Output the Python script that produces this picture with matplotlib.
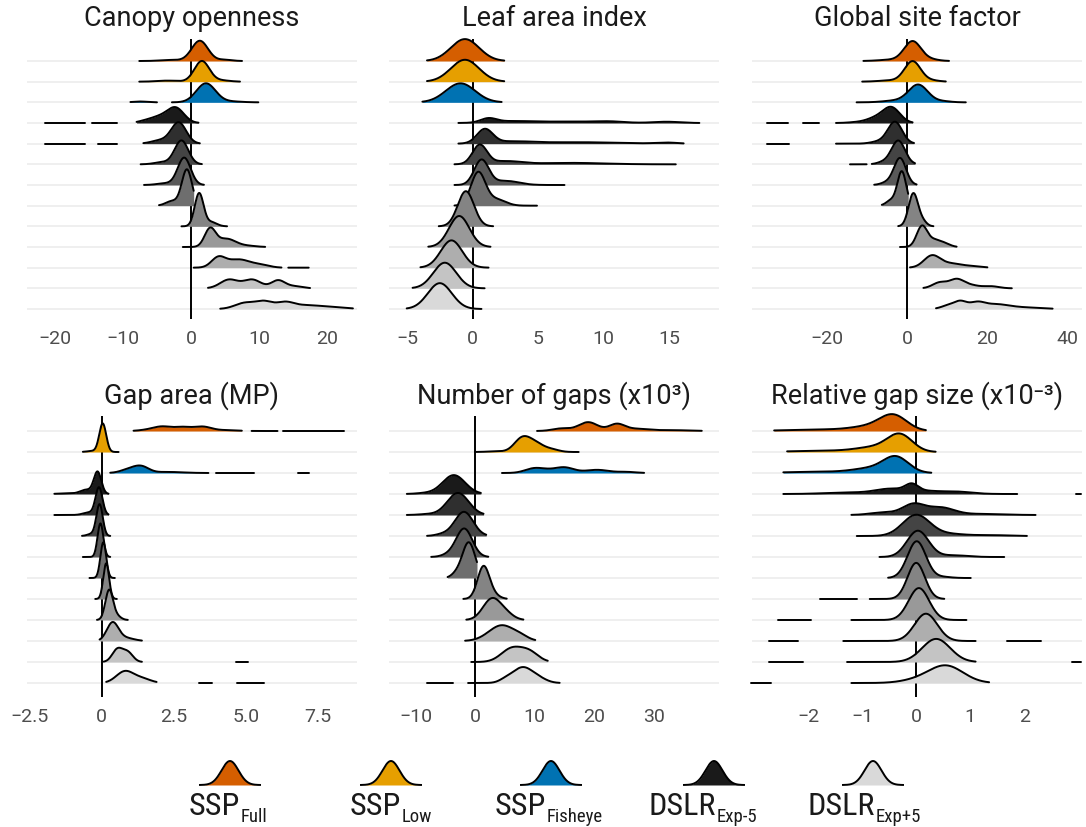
import numpy as np
import matplotlib.pyplot as plt
from matplotlib import font_manager

# ---------------------------------------------------------------------------#
# ridge data: one entry per row, top row first
# spans -> x intervals where the density line is drawn
# peaks -> (centre, spread, height in row units) of each mode

canopy_spans = [
    [(-7.6, 7.5)],
    [(-7.6, 7.2)],
    [(-8.9, -5.0), (-2.8, 9.9)],
    [(-21.5, -15.6), (-14.6, -10.9), (-8.0, 1.1)],
    [(-21.5, -15.6), (-13.6, -10.9), (-7.0, 1.3)],
    [(-7.4, 1.6)],
    [(-6.9, 1.9)],
    [(-4.7, 0.4)],
    [(-1.4, 5.3)],
    [(-1.2, 10.9)],
    [(0.4, 13.3), (14.3, 17.3)],
    [(2.5, 17.5)],
    [(4.3, 23.8)],
]
canopy_peaks = [
    [(1.3, 1.2, 0.98), (-3.0, 1.5, 0.05), (5.0, 1.0, 0.06)],
    [(1.6, 1.1, 1.0), (-3.5, 1.5, 0.05), (4.5, 1.2, 0.06)],
    [(2.2, 1.4, 0.92), (-7.5, 1.0, 0.04), (6.0, 1.5, 0.04)],
    [(-2.2, 1.2, 0.68), (-4.6, 1.5, 0.3), (-7.0, 1.0, 0.05)],
    [(-1.8, 1.1, 1.02), (-4.5, 1.3, 0.16)],
    [(-1.4, 1.0, 1.15), (-4.2, 1.2, 0.1)],
    [(-1.0, 0.95, 1.32), (-3.8, 1.2, 0.08)],
    [(-0.6, 0.75, 1.75), (-2.8, 0.9, 0.22)],
    [(1.2, 0.65, 1.6), (3.0, 0.8, 0.2)],
    [(2.8, 0.8, 0.85), (5.2, 1.4, 0.4), (8.5, 1.2, 0.05)],
    [(4.0, 1.0, 0.45), (7.0, 1.8, 0.4), (10.5, 1.2, 0.1)],
    [(5.6, 1.3, 0.42), (9.0, 1.3, 0.42), (12.8, 1.0, 0.38), (15.2, 1.2, 0.1)],
    [(8.0, 1.5, 0.3), (10.8, 1.2, 0.33), (13.8, 1.3, 0.3), (17.0, 2.0, 0.17), (21.0, 2.0, 0.08)],
]

lai_spans = [
    [(-3.5, 2.4)],
    [(-3.5, 2.4)],
    [(-3.85, 2.2)],
    [(-1.1, 17.3)],
    [(-1.1, 16.1)],
    [(-1.4, 15.5)],
    [(-1.4, 7.0)],
    [(-1.4, 4.9)],
    [(-2.6, 1.55)],
    [(-3.4, 1.35)],
    [(-4.0, 1.2)],
    [(-4.6, 0.9)],
    [(-5.05, 0.66)],
]
lai_peaks = [
    [(-0.6, 1.08, 1.06)],
    [(-0.6, 1.08, 1.06)],
    [(-0.94, 1.12, 0.92)],
    [(1.2, 0.6, 0.2), (3.0, 1.5, 0.08), (7.5, 2.5, 0.07), (10.5, 1.0, 0.05), (14.8, 1.0, 0.06)],
    [(0.92, 0.6, 0.68), (3.0, 1.5, 0.1), (8.0, 3.0, 0.07), (14.8, 0.8, 0.05)],
    [(0.53, 0.55, 0.92), (2.5, 1.2, 0.15), (7.5, 2.5, 0.07)],
    [(0.66, 0.55, 1.2), (2.5, 1.0, 0.2)],
    [(0.41, 0.55, 1.6), (1.8, 0.7, 0.3)],
    [(-0.53, 0.62, 1.7)],
    [(-1.04, 0.78, 1.5)],
    [(-1.63, 0.82, 1.32)],
    [(-2.14, 0.88, 1.24)],
    [(-2.52, 0.92, 1.25)],
]

gsf_spans = [
    [(-10.9, 10.5)],
    [(-11.2, 9.7)],
    [(-12.6, 14.7)],
    [(-34.9, -29.7), (-26.1, -21.9), (-17.75, 1.4)],
    [(-34.9, -29.4), (-17.75, 1.75)],
    [(-14.25, -10.1), (-8.8, 2.0)],
    [(-8.2, 2.4)],
    [(-6.3, 0.3)],
    [(-2.2, 6.6)],
    [(-1.75, 12.4)],
    [(0.75, 20.1)],
    [(4.1, 26.2)],
    [(7.25, 36.4)],
]
gsf_peaks = [
    [(1.4, 2.1, 0.95), (-4.0, 3.0, 0.06), (6.0, 2.0, 0.07)],
    [(1.4, 2.0, 0.98), (-4.0, 3.0, 0.06), (6.0, 2.0, 0.06)],
    [(2.8, 2.4, 0.85), (-3.0, 3.0, 0.08), (9.0, 2.0, 0.05)],
    [(-3.8, 2.1, 0.7), (-7.6, 2.5, 0.25), (-13.0, 2.0, 0.03)],
    [(-3.0, 1.8, 1.05), (-7.0, 2.0, 0.1)],
    [(-2.2, 1.7, 1.15), (-6.0, 1.5, 0.1)],
    [(-1.75, 1.5, 1.3), (-5.0, 1.5, 0.12)],
    [(-1.3, 1.1, 1.65), (-4.0, 1.2, 0.25)],
    [(1.6, 1.2, 1.6), (4.0, 1.0, 0.2)],
    [(3.7, 1.3, 0.95), (7.0, 2.0, 0.35), (10.0, 1.2, 0.06)],
    [(6.2, 2.0, 0.55), (11.0, 3.0, 0.2), (17.0, 2.0, 0.05)],
    [(8.2, 1.8, 0.28), (12.4, 1.8, 0.42), (16.0, 2.0, 0.14), (21.0, 2.0, 0.1)],
    [(10.5, 1.8, 0.18), (13.4, 1.5, 0.32), (17.5, 2.0, 0.32), (22.0, 2.5, 0.18), (26.0, 3.0, 0.1), (32.0, 3.0, 0.05)],
]

gap_spans = [
    [(1.1, 4.86), (5.2, 6.1), (6.3, 8.4)],
    [(-0.66, 0.58)],
    [(0.29, 3.7), (3.97, 5.3), (6.8, 7.2)],
    [(-1.65, 0.23)],
    [(-1.65, 0.23)],
    [(-0.69, 0.29)],
    [(-0.66, 0.29)],
    [(-0.43, 0.45)],
    [(-0.23, 0.52)],
    [(-0.17, 0.9)],
    [(-0.08, 1.39)],
    [(0.06, 1.39), (4.66, 5.09)],
    [(0.15, 1.9), (3.38, 3.83), (4.71, 5.64)],
]
gap_peaks = [
    [(2.1, 0.3, 0.2), (2.8, 0.3, 0.18), (3.5, 0.3, 0.2), (1.6, 0.3, 0.05), (4.3, 0.4, 0.04)],
    [(0.03, 0.12, 1.35), (-0.3, 0.2, 0.05)],
    [(1.0, 0.3, 0.2), (1.4, 0.25, 0.25), (2.3, 0.5, 0.05)],
    [(-0.15, 0.13, 1.05), (-0.55, 0.2, 0.2), (-1.2, 0.3, 0.03)],
    [(-0.1, 0.12, 1.3), (-0.45, 0.2, 0.12)],
    [(-0.08, 0.11, 1.5), (-0.35, 0.15, 0.1)],
    [(-0.05, 0.1, 1.6)],
    [(0.05, 0.1, 1.7)],
    [(0.15, 0.1, 1.7)],
    [(0.25, 0.13, 1.4), (0.5, 0.15, 0.2)],
    [(0.37, 0.2, 0.85), (0.8, 0.3, 0.15)],
    [(0.54, 0.18, 0.6), (0.9, 0.18, 0.45)],
    [(0.8, 0.3, 0.55), (1.4, 0.3, 0.2)],
]

ngap_spans = [
    [(10.4, 38.1)],
    [(0.0, 17.4)],
    [(4.5, 28.4)],
    [(-11.5, 0.95)],
    [(-11.5, 1.4)],
    [(-8.1, 1.85)],
    [(-7.4, 2.2)],
    [(-4.65, 0.3)],
    [(-2.0, 5.3)],
    [(-1.5, 8.1)],
    [(-1.7, 10.1)],
    [(-0.67, 12.2)],
    [(-8.1, -3.75), (-1.2, 14.2)],
]
ngap_peaks = [
    [(14.5, 1.5, 0.12), (19.0, 1.6, 0.42), (23.8, 1.3, 0.32), (27.0, 2.0, 0.1), (33.0, 3.0, 0.04)],
    [(7.8, 1.3, 0.58), (10.0, 1.5, 0.42), (13.0, 1.2, 0.1), (3.5, 1.5, 0.03)],
    [(9.8, 1.5, 0.2), (12.0, 1.5, 0.1), (15.0, 1.6, 0.26), (20.5, 2.0, 0.15), (25.5, 1.5, 0.05)],
    [(-3.6, 1.9, 0.9), (-8.5, 1.5, 0.04)],
    [(-2.9, 1.8, 1.05), (-8.0, 1.5, 0.04)],
    [(-1.9, 1.55, 1.15), (-5.5, 1.2, 0.08)],
    [(-1.85, 1.35, 1.35), (-4.5, 1.2, 0.1)],
    [(-1.1, 1.1, 1.7), (-3.3, 0.8, 0.15)],
    [(1.4, 1.0, 1.55), (3.2, 1.0, 0.15)],
    [(2.8, 1.5, 1.0), (5.2, 1.3, 0.25)],
    [(4.5, 2.2, 0.75), (7.8, 1.2, 0.12)],
    [(6.2, 1.8, 0.65), (9.2, 1.5, 0.42)],
    [(8.0, 1.8, 0.75), (5.0, 1.0, 0.1), (11.0, 1.3, 0.12)],
]

rel_spans = [
    [(-2.63, 0.18)],
    [(-2.39, 0.36)],
    [(-2.46, 0.28)],
    [(-2.46, 1.87), (2.95, 3.06)],
    [(-1.2, 2.21)],
    [(-1.1, 2.05)],
    [(-0.68, 1.63)],
    [(-0.52, 1.01)],
    [(-1.78, -1.1), (-0.86, 0.52)],
    [(-2.55, -1.94), (-1.2, 0.93)],
    [(-2.72, -2.18), (-1.35, 1.1), (1.69, 2.31)],
    [(-2.72, -2.1), (-1.28, 1.1), (2.88, 3.06)],
    [(-3.06, -2.69), (-1.2, 1.35)],
]
rel_peaks = [
    [(-0.42, 0.25, 0.7), (-0.85, 0.35, 0.2), (-1.8, 0.6, 0.07)],
    [(-0.3, 0.23, 0.78), (-0.75, 0.35, 0.22), (-1.7, 0.6, 0.06)],
    [(-0.37, 0.23, 0.7), (-0.8, 0.35, 0.22), (-1.8, 0.6, 0.06)],
    [(-0.08, 0.12, 0.35), (-0.45, 0.3, 0.25), (0.7, 0.3, 0.12), (-1.3, 0.4, 0.07), (0.2, 0.2, 0.1)],
    [(-0.05, 0.2, 0.5), (0.45, 0.25, 0.35), (-0.6, 0.25, 0.12), (1.2, 0.4, 0.05)],
    [(0.0, 0.25, 1.0), (0.6, 0.3, 0.1), (1.4, 0.3, 0.04)],
    [(0.03, 0.2, 1.25), (0.7, 0.25, 0.08)],
    [(0.01, 0.17, 1.75), (0.5, 0.15, 0.05)],
    [(0.0, 0.16, 1.72)],
    [(0.05, 0.19, 1.52)],
    [(0.18, 0.21, 1.3)],
    [(0.37, 0.26, 1.1)],
    [(0.55, 0.32, 0.82), (0.0, 0.3, 0.12)],
]

titles = ['Canopy openness', 'Leaf area index', 'Global site factor',
          'Gap area (MP)', 'Number of gaps (x10³)', 'Relative gap size (x10⁻³)']
xlims = [(-24.1, 24.4), (-6.4, 18.8), (-38.75, 43.75),
         (-2.6, 8.86), (-14.5, 41.0), (-3.04, 3.07)]
xticks = [[-20, -10, 0, 10, 20], [-5, 0, 5, 10, 15], [-20, 0, 20, 40],
          [-2.5, 0, 2.5, 5.0, 7.5], [-10, 0, 10, 20, 30], [-2, -1, 0, 1, 2]]
xticklabels = [['−20', '−10', '0', '10', '20'], ['−5', '0', '5', '10', '15'],
               ['−20', '0', '20', '40'], ['−2.5', '0', '2.5', '5.0', '7.5'],
               ['−10', '0', '10', '20', '30'], ['−2', '−1', '0', '1', '2']]

method_names = ['SSP', 'SSP', 'SSP', 'DSLR', 'DSLR']
method_subs = ['Full', 'Low', 'Fisheye', 'Exp-5', 'Exp+5']

ssp_colors = ['#D55E00', '#E69F00', '#0072B2']
dslr_greys = ['#1a1a1a', '#2f2f2f', '#444444', '#595959', '#6e6e6e',
              '#848484', '#999999', '#aeaeae', '#c4c4c4', '#d9d9d9']
row_colors = ssp_colors + dslr_greys

#----------------------------------------------------------------------------------------#

installed = {f.name for f in font_manager.fontManager.ttflist}
base_font = 'Roboto' if 'Roboto' in installed else 'DejaVu Sans'
narrow_font = base_font
for cand in ['Roboto Condensed', 'Liberation Sans Narrow']:
    if cand in installed:
        narrow_font = cand
        break

plt.rcParams['font.family'] = [base_font, 'DejaVu Sans']

W, H = 1086, 828
fig = plt.figure(figsize=(W / 100, H / 100), dpi=100)


def density(x, peaks):
    y = np.zeros_like(x)
    for c, s, a in peaks:
        y += a * np.exp(-0.5 * ((x - c) / s) ** 2)
    return y


def draw_ridges(ax, spans_list, peaks_list):
    n = len(spans_list)
    for i in range(n):
        base = n - 1 - i
        z = 3 + 2 * i
        for lo, hi in spans_list[i]:
            x = np.linspace(lo, hi, 400)
            y = base + density(x, peaks_list[i])
            ax.fill_between(x, base, y, color=row_colors[i], lw=0, zorder=z, clip_on=False)
            ax.plot(x, y, color='black', lw=1.4, zorder=z + 1, clip_on=False,
                    solid_capstyle='round')


def px_axes(x0, x1, y0, y1):
    return fig.add_axes([x0 / W, 1 - y1 / H, (x1 - x0) / W, (y1 - y0) / H])


cols = [(27, 357), (389, 719), (752, 1082)]
rows = [(40, 320, 62, 310), (417, 698, 432, 684)]   # axes top/bottom, first/last baseline

all_spans = [canopy_spans, lai_spans, gsf_spans, gap_spans, ngap_spans, rel_spans]
all_peaks = [canopy_peaks, lai_peaks, gsf_peaks, gap_peaks, ngap_peaks, rel_peaks]

for k in range(6):
    r, c = divmod(k, 3)
    x0, x1 = cols[c]
    y0, y1, b0, b1 = rows[r]
    ax = px_axes(x0, x1, y0, y1)
    step = (b1 - b0) / 12.0
    ax.set_ylim(-(y1 - b1) / step, 12 + (b0 - y0) / step)
    ax.set_xlim(*xlims[k])

    ax.hlines(range(13), xlims[k][0], xlims[k][1], color='#EBEBEB', lw=1.1, zorder=0)
    ax.axvline(0, color='black', lw=1.4, zorder=1)
    draw_ridges(ax, all_spans[k], all_peaks[k])

    ax.set_yticks([])
    ax.set_xticks(xticks[k])
    ax.set_xticklabels(xticklabels[k])
    ax.tick_params(axis='x', length=0, pad=7, labelsize=14, labelcolor='#4D4D4D')
    for s in ax.spines.values():
        s.set_visible(False)
    ax.patch.set_alpha(0)

    fig.text((x0 + x1) / 2 / W, 1 - (y0 - 21) / H, titles[k], ha='center', va='center',
             fontsize=19.5, color='#1a1a1a')

#----------------------------------------------------------------------------------------#
# legend along the bottom

leg = fig.add_axes([0, 0, 1, 1])
leg.set_xlim(0, W)
leg.set_ylim(H, 0)
leg.axis('off')

key_x = [230, 391, 551, 714, 873]
split_x = [240, 401, 546, 716, 875]
key_colors = ['#D55E00', '#E69F00', '#0072B2', '#1a1a1a', '#d9d9d9']
kx = np.linspace(-30, 30, 200)
ky = 24 * np.exp(-0.5 * (kx / 8.5) ** 2)
for j in range(5):
    leg.fill_between(key_x[j] + kx, 786, 786 - ky, color=key_colors[j], lw=0)
    leg.plot(key_x[j] + kx, 786 - ky, color='black', lw=1.4)
    leg.text(split_x[j], 815, method_names[j], ha='right', va='baseline',
             fontsize=23, family=[narrow_font, 'DejaVu Sans'], color='#1a1a1a')
    leg.text(split_x[j] + 1, 822, method_subs[j], ha='left', va='baseline',
             fontsize=13.5, family=[narrow_font, 'DejaVu Sans'], color='#1a1a1a')

plt.savefig('out.png', dpi=100)
